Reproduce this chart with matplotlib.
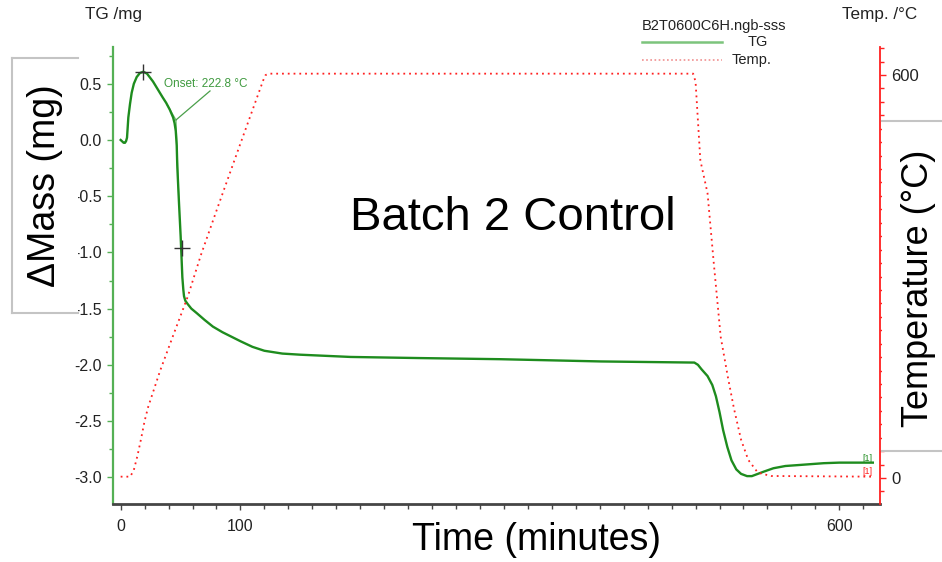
import numpy as np
import matplotlib
matplotlib.use("Agg")
import matplotlib.pyplot as plt
from matplotlib.patches import Rectangle
from matplotlib.lines import Line2D
from matplotlib.ticker import MultipleLocator, FixedLocator, FormatStrFormatter

plt.rcParams['font.family'] = ['Liberation Sans', 'DejaVu Sans']
plt.rcParams['axes.unicode_minus'] = False

# TG curve (time in minutes, mass change in mg)
tg_time = [0, 1, 2.5, 3.6, 4.5, 5.3, 6.4, 7.8, 9.2, 11, 13.4, 16, 18.9, 22, 27,
           31, 35, 38, 41, 43.8, 45, 46, 46.8, 47.3, 48, 48.7, 49.4, 50.1, 50.8,
           51.5, 52.3, 52.9, 54, 56, 59, 63.5, 70, 77, 85, 100, 110, 120, 135,
           150, 192, 250, 317, 401, 479, 482, 485, 490, 494, 497, 500, 503,
           506.5, 510, 514, 518, 523, 527, 532, 537, 545, 555, 568, 587, 600, 628]
tg_mass = [0.0, -0.01, -0.025, -0.025, -0.01, 0.02, 0.2, 0.32, 0.42, 0.5, 0.56,
           0.595, 0.607, 0.59, 0.52, 0.45, 0.38, 0.33, 0.27, 0.2, 0.15, 0.08,
           -0.05, -0.24, -0.4, -0.56, -0.71, -0.86, -1.04, -1.22, -1.33, -1.39,
           -1.43, -1.46, -1.5, -1.54, -1.6, -1.66, -1.71, -1.79, -1.84, -1.875,
           -1.9, -1.91, -1.93, -1.94, -1.95, -1.97, -1.98, -2.0, -2.04, -2.1,
           -2.18, -2.28, -2.42, -2.58, -2.73, -2.85, -2.93, -2.97, -2.99, -2.99,
           -2.97, -2.95, -2.92, -2.9, -2.89, -2.875, -2.87, -2.87]

# temperature programme (time in minutes, degrees C)
temp_time = [0, 8, 11, 14, 17, 20, 23, 33, 44, 56, 67, 80, 100, 119, 121, 124,
             478, 480, 484, 490, 495, 501, 507, 512, 518, 524, 532, 543, 628]
temp_val = [2, 2, 12, 33, 58, 85, 106, 160, 213, 270, 332, 398, 498, 592, 600,
            602, 602, 590, 473, 424, 324, 210, 150, 104, 57, 27, 8, 3, 2]

# markers and onset evaluation
cross_time = [18.9, 51.0]
cross_mass = [0.607, -0.96]
onset_time = 46.2
onset_mass = 0.178
onset_label = "Onset: 222.8 °C"

x_major = [0, 100, 600]
y_major = [0.5, 0.0, -0.5, -1.0, -1.5, -2.0, -2.5, -3.0]
t_major = [0, 600]

W, H = 942, 562


def fx(px):
    return px / W


def fy(py):
    return 1 - py / H


fig = plt.figure(figsize=(9.42, 5.62), dpi=100)
ax = fig.add_axes([fx(113), fy(504), (880 - 113) / W, (504 - 47) / H])
ax2 = ax.twinx()

green = '#1e8c1e'
red = '#ff2020'

ax.plot(tg_time, tg_mass, color=green, lw=1.7, zorder=3)
ax.plot(cross_time, cross_mass, '+', color='#333333', ms=11, mew=1.0, zorder=4)

# onset tangents and pointer
ax.plot([39, onset_time], [0.31, onset_mass], color='#6fbf6f', lw=0.9)
ax.plot([onset_time, 48.6], [onset_mass, -0.55], color='#6fbf6f', lw=0.9)
ax.plot([onset_time, 74.6], [onset_mass, 0.436], color='#4a9f4a', lw=0.9)
ax.text(36, 0.5, onset_label, color='#3f9a3f', fontsize=8.5, va='center')

ax2.plot(temp_time, temp_val, color=red, lw=1.3, ls=(0, (1, 2.2)), zorder=2)

ax.text(628, -2.83, '[1]', color=green, fontsize=6.5, ha='right', va='center')
ax2.text(628, 10, '[1]', color=red, fontsize=6.5, ha='right', va='center')

ax.set_xlim(-6.4, 634)
ax.set_ylim(-3.238, 0.827)
ax2.set_ylim(-38.7, 641.7)

ax.xaxis.set_major_locator(FixedLocator(x_major))
ax.xaxis.set_minor_locator(MultipleLocator(20))
ax.yaxis.set_major_locator(FixedLocator(y_major))
ax.yaxis.set_minor_locator(MultipleLocator(0.25))
ax.yaxis.set_major_formatter(FormatStrFormatter('%.1f'))
ax2.yaxis.set_major_locator(FixedLocator(t_major))
ax2.yaxis.set_minor_locator(MultipleLocator(20))

ax.spines['top'].set_visible(False)
ax.spines['right'].set_visible(False)
ax.spines['left'].set_color('#55b055')
ax.spines['left'].set_linewidth(1.6)
ax.spines['bottom'].set_color('#454545')
ax.spines['bottom'].set_linewidth(2.0)
for s in ['top', 'left', 'bottom']:
    ax2.spines[s].set_visible(False)
ax2.spines['right'].set_color(red)
ax2.spines['right'].set_linewidth(1.3)

ax.tick_params(axis='x', which='major', length=4, width=1, color='#454545',
               labelsize=11.5, labelcolor='#222222', pad=7)
ax.tick_params(axis='x', which='minor', length=3.5, width=1, color='#454545')
ax.tick_params(axis='y', which='major', length=4, width=1, color='#55b055',
               labelsize=11.5, labelcolor='#222222', pad=4)
ax.tick_params(axis='y', which='minor', length=3, width=1, color='#55b055')
ax2.tick_params(axis='y', which='major', length=4, width=1, color=red,
                labelsize=12, labelcolor='#222222', pad=4)
ax2.tick_params(axis='y', which='minor', length=3, width=1, color=red)

# white label boxes laid over the axis area
box_l = Rectangle((fx(12), fy(313)), fx(78) - fx(12), fy(58) - fy(313),
                  transform=fig.transFigure, facecolor='white', edgecolor='none',
                  zorder=5)
box_r = Rectangle((fx(882), fy(451)), fx(942) - fx(882), fy(121) - fy(451),
                  transform=fig.transFigure, facecolor='white', edgecolor='none',
                  zorder=5)
fig.add_artist(box_l)
fig.add_artist(box_r)
border = '#c4c4c4'
for xs, ys in [([12, 78], [58, 58]), ([12, 12], [58, 313]), ([12, 78], [313, 313]),
               ([882, 942], [121, 121]), ([882, 942], [451, 451])]:
    fig.add_artist(Line2D([fx(v) for v in xs], [fy(v) for v in ys],
                          transform=fig.transFigure, color=border, lw=1.5,
                          zorder=6))

fig.text(fx(45), fy(186), 'ΔMass (mg)', rotation=90, fontsize=27,
         ha='center', va='center', zorder=7)
fig.text(fx(918), fy(288), 'Temperature (°C)', rotation=90, fontsize=26,
         ha='center', va='center', zorder=7)
fig.text(fx(513), fy(218), 'Batch 2 Control', fontsize=34,
         ha='center', va='center', zorder=7)
fig.text(fx(536), fy(540), 'Time (minutes)', fontsize=27,
         ha='center', va='center', zorder=7)

fig.text(fx(85), fy(15), 'TG /mg', fontsize=12.3, ha='left', va='center',
         color='#222222')
fig.text(fx(842), fy(14), 'Temp. /°C', fontsize=12.3, ha='left', va='center',
         color='#222222')

# legend block
fig.text(fx(642), fy(26), 'B2T0600C6H.ngb-sss', fontsize=10.5, ha='left',
         va='center', color='#222222')
fig.add_artist(Line2D([fx(642), fx(722)], [fy(42), fy(42)],
                      transform=fig.transFigure, color='#7cc47c', lw=1.8))
fig.text(fx(748), fy(42), 'TG', fontsize=10.5, ha='left', va='center',
         color='#222222')
fig.add_artist(Line2D([fx(642), fx(722)], [fy(60), fy(60)],
                      transform=fig.transFigure, color='#f09090', lw=1.2,
                      ls=(0, (1, 1.5))))
fig.text(fx(732), fy(60), 'Temp.', fontsize=10.5, ha='left', va='center',
         color='#222222')

fig.savefig('out.png', dpi=100)
